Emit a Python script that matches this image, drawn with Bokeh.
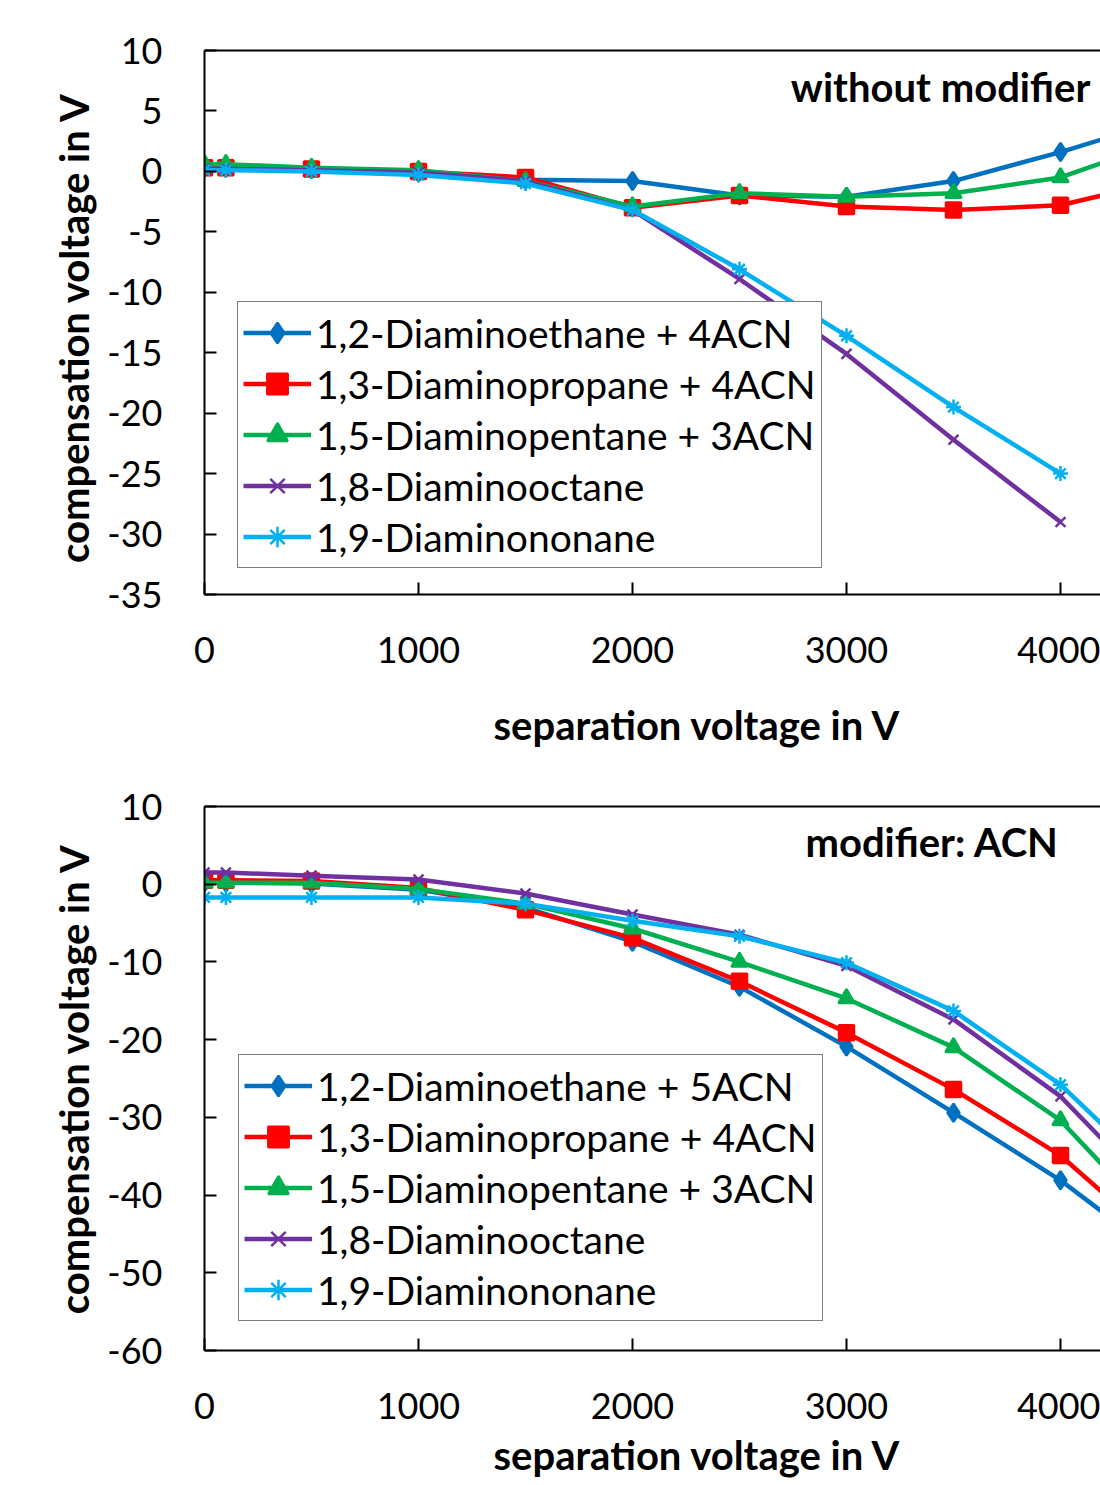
from bokeh.plotting import figure
from bokeh.layouts import column
from bokeh.models import (Range1d, FixedTicker, LinearAxis, Legend, LegendItem,
                          Label, Title, CustomJSTickFormatter)
from bokeh.embed import file_html
from bokeh.resources import INLINE

FONT = "Lato"

# ---------------- data ----------------
sep_v = [0, 100, 500, 1000, 1500, 2000, 2500, 3000, 3500, 4000, 4500]
sep_v_short = [0, 100, 500, 1000, 1500, 2000, 2500, 3000, 3500, 4000]

# Panel 1: without modifier
p1_names = ["1,2-Diaminoethane + 4ACN", "1,3-Diaminopropane + 4ACN",
            "1,5-Diaminopentane + 3ACN", "1,8-Diaminooctane", "1,9-Diaminononane"]
p1_ethane = [0.3, 0.3, 0.2, -0.1, -0.7, -0.8, -2.0, -2.1, -0.8, 1.6, 4.3]
p1_propane = [0.3, 0.3, 0.2, 0.0, -0.5, -3.0, -2.0, -2.9, -3.2, -2.8, -0.7]
p1_pentane = [0.6, 0.6, 0.3, 0.1, -0.8, -2.9, -1.8, -2.1, -1.8, -0.5, 2.6]
p1_octane = [0.2, 0.2, 0.1, -0.1, -0.8, -3.2, -8.9, -15.1, -22.2, -29.0]
p1_nonane = [0.1, 0.1, 0.0, -0.3, -1.0, -3.2, -8.1, -13.6, -19.5, -25.0]

# Panel 2: modifier ACN
p2_names = ["1,2-Diaminoethane + 5ACN", "1,3-Diaminopropane + 4ACN",
            "1,5-Diaminopentane + 3ACN", "1,8-Diaminooctane", "1,9-Diaminononane"]
p2_ethane = [0.2, 0.2, 0.1, -0.7, -3.0, -7.4, -13.2, -20.9, -29.4, -38.1, -48.5]
p2_propane = [0.5, 0.5, 0.4, -0.5, -3.3, -6.9, -12.5, -19.1, -26.4, -34.9, -47.0]
p2_pentane = [0.2, 0.2, 0.2, -0.6, -2.5, -5.7, -10.0, -14.7, -21.0, -30.4, -45.0]
p2_octane = [1.5, 1.5, 1.1, 0.6, -1.2, -3.9, -6.5, -10.5, -17.4, -27.3, -41.5]
p2_nonane = [-1.7, -1.7, -1.7, -1.7, -2.5, -4.7, -6.7, -10.1, -16.3, -25.8, -38.9]

x_ticks = [0, 1000, 2000, 3000, 4000]
p1_y_ticks = [10, 5, 0, -5, -10, -15, -20, -25, -30, -35]
p2_y_ticks = [10, 0, -10, -20, -30, -40, -50, -60]

x_title = "separation voltage in V"
colors = ["#0070C0", "#FF0000", "#00B050", "#7030A0", "#00B0F0"]
markers = ["diamond", "square", "triangle", "x", "asterisk"]
msizes = [18, 15, 16, 14, 15]


def make_panel(height, border_top, border_bottom, y_lo, y_hi, y_ticks,
               series, names, title_text, title_x, title_y, ylabel,
               xtitle_standoff, legend_loc):
    p = figure(width=1100, height=height, output_backend="svg",
               toolbar_location=None, x_range=Range1d(0, 4187),
               y_range=Range1d(y_lo, y_hi),
               min_border_left=204, min_border_right=0,
               min_border_top=border_top, min_border_bottom=border_bottom)
    p.outline_line_color = None
    p.xgrid.visible = False
    p.ygrid.visible = False
    p.background_fill_color = "white"
    p.border_fill_color = "white"

    fmt = CustomJSTickFormatter(code="return tick.toString();")
    for ax in (p.xaxis[0], p.yaxis[0]):
        ax.axis_line_width = 2
        ax.axis_line_color = "black"
        ax.major_tick_in = 12
        ax.major_tick_out = 0
        ax.major_tick_line_width = 2
        ax.minor_tick_line_color = None
        ax.major_label_text_font = FONT
        ax.major_label_text_font_size = "36px"
        ax.major_label_text_color = "black"
        ax.axis_label_text_font = FONT
        ax.axis_label_text_font_size = "40px"
        ax.axis_label_text_font_style = "bold"
        ax.axis_label_text_color = "black"
        ax.formatter = fmt

    p.xaxis.ticker = FixedTicker(ticks=x_ticks)
    p.yaxis.ticker = FixedTicker(ticks=y_ticks)
    p.xaxis.major_label_standoff = 42
    p.yaxis.major_label_standoff = 42
    p.yaxis.axis_label = ylabel
    p.yaxis.axis_label_standoff = 6

    top = LinearAxis(ticker=FixedTicker(ticks=[]), axis_line_width=2,
                     axis_line_color="black", major_tick_line_color=None,
                     minor_tick_line_color=None,
                     major_label_text_font_size="0px")
    p.add_layout(top, "above")

    # x-axis title, placed like the original (whose frame is cropped on the right)
    p.add_layout(Title(text=x_title, align="left", offset=289,
                       standoff=xtitle_standoff, text_font=FONT,
                       text_font_size="40px", text_font_style="bold",
                       text_color="black"), "below")

    items = []
    for (xs, ys), name, c, m, s in zip(series, names, colors, markers, msizes):
        r_line = p.line(xs, ys, line_color=c, line_width=4.5)
        r_pt = p.scatter(xs, ys, marker=m, size=s, fill_color=c,
                         line_color=c, line_width=2.5)
        items.append(LegendItem(label=name, renderers=[r_line, r_pt]))

    legend = Legend(items=items, location=legend_loc,
                    label_text_font=FONT, label_text_font_size="39px",
                    label_text_color="black",
                    glyph_width=68, glyph_height=51, label_height=51,
                    label_standoff=5, spacing=0, padding=5, margin=0,
                    border_line_color="black", border_line_width=1.5,
                    background_fill_color="white", background_fill_alpha=1)
    p.add_layout(legend, "center")

    p.add_layout(Label(x=title_x, y=title_y, text=title_text, text_font=FONT,
                       text_font_size="40px", text_font_style="bold",
                       text_color="black", text_baseline="middle"))
    return p


p1_series = [(sep_v, p1_ethane), (sep_v, p1_propane), (sep_v, p1_pentane),
             (sep_v_short, p1_octane), (sep_v_short, p1_nonane)]
p2_series = [(sep_v, p2_ethane), (sep_v, p2_propane), (sep_v, p2_pentane),
             (sep_v, p2_octane), (sep_v, p2_nonane)]

p1 = make_panel(783, 50, 189, -35, 10, p1_y_ticks, p1_series, p1_names,
                "without modifier", 2740, 7.0, "compensation voltage  in V",
                66, (33, 26))
p2 = make_panel(702, 23, 135, -60, 10, p2_y_ticks, p2_series, p2_names,
                "modifier: ACN", 2808, 5.4, "compensation voltage in V",
                14, (34, 29))

layout = column(p1, p2, spacing=0)
open("out.html", "w").write(file_html(layout, INLINE))
